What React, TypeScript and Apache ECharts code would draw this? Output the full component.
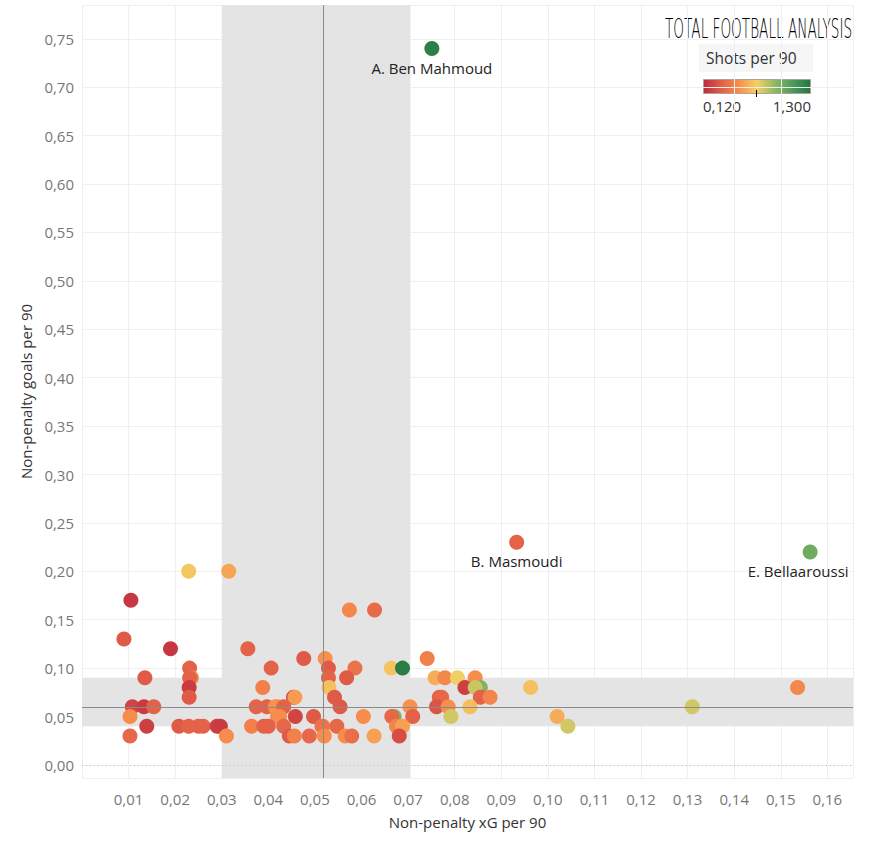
import React, { useEffect, useRef } from "react";
import * as echarts from "echarts";

const xgPer90 = [
  0.0751, 0.0933, 0.1563, 0.0105, 0.009, 0.019, 0.0229, 0.0315, 0.0356, 0.0406,
  0.0135, 0.0231, 0.0235, 0.0231, 0.023, 0.023, 0.0388, 0.0108, 0.0133, 0.0154,
  0.0103, 0.0139, 0.0103, 0.0208, 0.0229, 0.025, 0.026, 0.029, 0.0297, 0.031,
  0.0374, 0.0397, 0.042, 0.042, 0.0364, 0.039, 0.04, 0.0574, 0.0628, 0.0476,
  0.0522, 0.0529, 0.0529, 0.053, 0.0586, 0.0568, 0.0664, 0.0688, 0.0454, 0.0457,
  0.0542, 0.0554, 0.0415, 0.0433, 0.0424, 0.0458, 0.0497, 0.0517, 0.0547, 0.0604,
  0.067, 0.0665, 0.0704, 0.071, 0.0675, 0.0688, 0.0681, 0.0433, 0.0445, 0.0456,
  0.0488, 0.0515, 0.052, 0.0565, 0.0579, 0.0627, 0.0741, 0.0758, 0.0779, 0.0806,
  0.0844, 0.0855, 0.0822, 0.0844, 0.0767, 0.0772, 0.0855, 0.0876, 0.0761, 0.0786,
  0.0833, 0.0792, 0.0963, 0.102, 0.1043, 0.131, 0.1536,
];

const goalsPer90 = [
  0.74, 0.23, 0.22, 0.17, 0.13, 0.12, 0.2, 0.2, 0.12, 0.1,
  0.09, 0.1, 0.09, 0.09, 0.08, 0.07, 0.08, 0.06, 0.06, 0.06,
  0.05, 0.04, 0.03, 0.04, 0.04, 0.04, 0.04, 0.04, 0.04, 0.03,
  0.06, 0.06, 0.06, 0.05, 0.04, 0.04, 0.04, 0.16, 0.16, 0.11,
  0.11, 0.1, 0.09, 0.08, 0.1, 0.09, 0.1, 0.1, 0.07, 0.07,
  0.07, 0.06, 0.06, 0.06, 0.05, 0.05, 0.05, 0.04, 0.04, 0.05,
  0.05, 0.05, 0.06, 0.05, 0.04, 0.04, 0.03, 0.04, 0.03, 0.03,
  0.03, 0.04, 0.03, 0.03, 0.03, 0.03, 0.11, 0.09, 0.09, 0.09,
  0.09, 0.08, 0.08, 0.08, 0.07, 0.07, 0.07, 0.07, 0.06, 0.06,
  0.06, 0.05, 0.08, 0.05, 0.04, 0.06, 0.08,
];

const shotsPer90 = [
  1.25, 0.33, 1.0, 0.17, 0.3, 0.17, 0.68, 0.58, 0.33, 0.33,
  0.3, 0.33, 0.5, 0.33, 0.18, 0.3, 0.45, 0.22, 0.18, 0.33,
  0.5, 0.2, 0.35, 0.3, 0.33, 0.33, 0.33, 0.2, 0.18, 0.5,
  0.33, 0.33, 0.55, 0.47, 0.45, 0.33, 0.33, 0.48, 0.36, 0.3,
  0.52, 0.3, 0.33, 0.66, 0.4, 0.3, 0.67, 1.27, 0.22, 0.55,
  0.3, 0.3, 0.52, 0.33, 0.5, 0.22, 0.3, 0.48, 0.35, 0.5,
  0.95, 0.35, 0.52, 0.33, 0.47, 0.56, 0.25, 0.35, 0.3, 0.45,
  0.35, 0.4, 0.5, 0.5, 0.38, 0.56, 0.45, 0.6, 0.48, 0.72,
  0.5, 0.95, 0.2, 0.8, 0.33, 0.35, 0.33, 0.47, 0.28, 0.5,
  0.65, 0.78, 0.66, 0.6, 0.78, 0.78, 0.48,
];

const playerNames = ["A. Ben Mahmoud", "B. Masmoudi", "E. Bellaaroussi"];
const labelOffsets = [[0, 0], [0, 0], [-12, 0]];

const shotsMin = 0.12;
const shotsMax = 1.3;
const paletteColors = ["#be2a3e", "#e25f48", "#f88f4d", "#f4d166", "#90b960", "#4b9b5f", "#22763f"];

const avgXg = 0.0518;
const avgGoals = 0.06;
const xgBand = [0.03, 0.0705];
const goalsBand = [0.04, 0.09];

const FONT = "'Open Sans', 'Noto Sans', sans-serif";
const fmt = (v: number) => v.toFixed(2).replace(".", ",");

export default function App() {
  const ref = useRef<HTMLDivElement>(null);
  useEffect(() => {
    if (!ref.current) return;
    const chart = echarts.init(ref.current, undefined, { renderer: "svg" });
    const points = xgPer90.map((x, i) => {
      const item: any = { value: [x, goalsPer90[i], shotsPer90[i]] };
      if (i < playerNames.length) {
        item.name = playerNames[i];
        item.label = {
          show: true,
          position: "bottom",
          distance: 4,
          offset: labelOffsets[i],
          formatter: playerNames[i],
          color: "#222",
          fontSize: 15,
          fontFamily: FONT,
        };
      }
      return item;
    });
    const option: any = {
      animation: false,
      backgroundColor: "#fff",
      textStyle: { fontFamily: FONT },
      grid: { left: 82, right: 17, top: 5, bottom: 66, containLabel: false },
      xAxis: {
        type: "value",
        min: 0,
        max: 0.1655,
        interval: 0.01,
        z: 1,
        name: "Non-penalty xG per 90",
        nameLocation: "middle",
        nameGap: 36,
        nameTextStyle: { color: "#333", fontSize: 15, fontFamily: FONT },
        axisLine: { show: false },
        axisTick: { show: false },
        splitLine: { show: true, lineStyle: { color: "#efefef", width: 1 } },
        axisLabel: {
          color: "#777",
          fontSize: 15,
          margin: 13,
          showMinLabel: false,
          showMaxLabel: false,
          formatter: (v: number) => fmt(v),
        },
      },
      yAxis: {
        type: "value",
        min: -0.0135,
        max: 0.785,
        splitNumber: 16,
        minInterval: 0.05,
        maxInterval: 0.05,
        z: 1,
        name: "Non-penalty goals per 90",
        nameLocation: "middle",
        nameGap: 47,
        nameTextStyle: { color: "#333", fontSize: 15, fontFamily: FONT },
        axisLine: { show: false },
        axisTick: { show: false },
        splitLine: { show: true, lineStyle: { color: "#efefef", width: 1 } },
        axisLabel: {
          color: "#777",
          fontSize: 15,
          margin: 8,
          showMinLabel: false,
          showMaxLabel: false,
          formatter: (v: number) => (v < -0.001 ? "" : fmt(v)),
        },
      },
      visualMap: {
        type: "continuous",
        show: false,
        dimension: 2,
        min: shotsMin,
        max: shotsMax,
        seriesIndex: 2,
        inRange: { color: paletteColors },
      },
      series: [
        {
          type: "scatter",
          data: [],
          z: 0,
          silent: true,
          markArea: {
            silent: true,
            itemStyle: { color: "#e4e4e4", opacity: 1 },
            data: [
              [{ xAxis: xgBand[0], yAxis: "min" }, { xAxis: xgBand[1], yAxis: "max" }],
              [{ xAxis: "min", yAxis: goalsBand[0] }, { xAxis: "max", yAxis: goalsBand[1] }],
            ],
          },
        },
        {
          type: "scatter",
          data: [],
          z: 1.5,
          silent: true,
          markLine: {
            silent: true,
            symbol: "none",
            precision: 5,
            label: { show: false },
            data: [
              { xAxis: avgXg, lineStyle: { color: "#8a8a8a", width: 1, type: "solid" } },
              { yAxis: avgGoals, lineStyle: { color: "#8a8a8a", width: 1, type: "solid" } },
              { yAxis: 0, lineStyle: { color: "#bdbdbd", width: 1, type: [1, 3] } },
            ],
          },
        },
        {
          type: "scatter",
          z: 3,
          symbolSize: 15,
          itemStyle: { opacity: 1 },
          data: points,
        },
      ],
      graphic: [
        {
          type: "text",
          x: 665,
          y: 15,
          scaleX: 0.505,
          style: {
            text: "TOTAL FOOTBALL ANALYSIS",
            fontFamily: "'DejaVu Sans', sans-serif",
            fontSize: 27,
            fontWeight: 200,
            fill: "#000",
          },
        },
        {
          type: "rect",
          shape: { x: 699, y: 44, width: 114, height: 28 },
          style: { fill: "#f6f6f6" },
        },
        {
          type: "text",
          x: 706,
          y: 58,
          style: { text: "Shots per 90", fontSize: 15.5, fontFamily: FONT, fill: "#333", verticalAlign: "middle" },
        },
        {
          type: "rect",
          shape: { x: 703.5, y: 79.5, width: 107, height: 14 },
          style: {
            fill: {
              type: "linear",
              x: 0,
              y: 0,
              x2: 1,
              y2: 0,
              colorStops: paletteColors.map((c, i) => ({ offset: i / (paletteColors.length - 1), color: c })),
            },
            stroke: "#a8a39c",
            lineWidth: 1,
          },
        },
        {
          type: "line",
          shape: { x1: 756.5, y1: 90, x2: 756.5, y2: 97 },
          style: { stroke: "#000", lineWidth: 1 },
        },
        {
          type: "text",
          x: 703,
          y: 106,
          style: { text: "0,120", fontSize: 15, fontFamily: FONT, fill: "#333", verticalAlign: "middle" },
        },
        {
          type: "text",
          x: 811,
          y: 106,
          style: { text: "1,300", fontSize: 15, fontFamily: FONT, fill: "#333", verticalAlign: "middle", align: "right" },
        },
      ],
    };
    chart.setOption(option);
    return () => chart.dispose();
  }, []);
  return <div ref={ref} style={{ position: "absolute", left: 0, top: 0, width: 870, height: 844 }} />;
}
